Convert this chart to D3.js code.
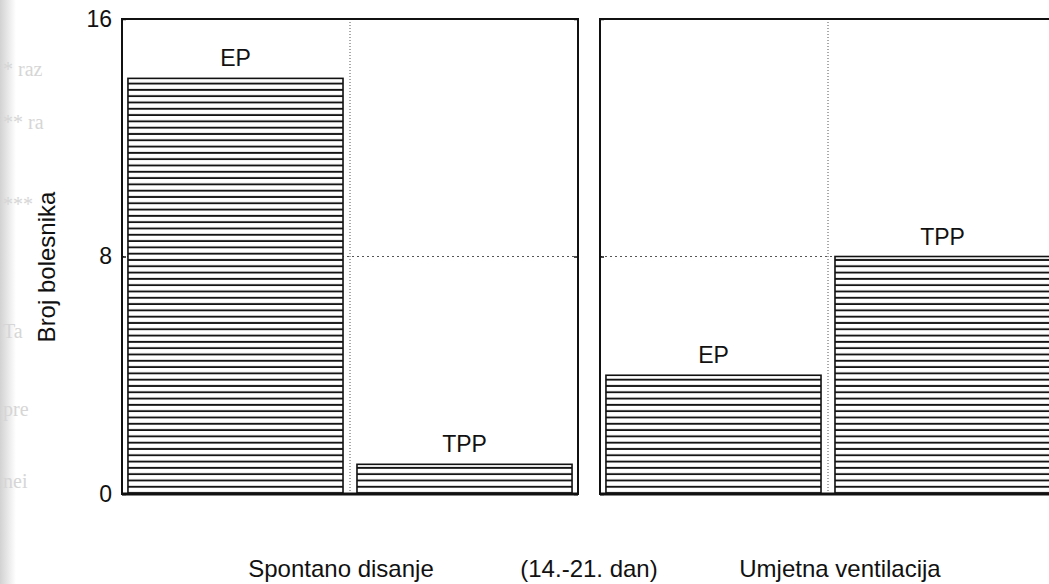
<!DOCTYPE html>
<html>
<head>
<meta charset="utf-8">
<script src="https://cdn.jsdelivr.net/npm/d3@7"></script>
<style>
  html, body { margin: 0; padding: 0; background: #fff; }
  svg { display: block; }
  text { font-family: "Liberation Sans", Arial, sans-serif; fill: #111; }
</style>
</head>
<body>
<svg id="chart" width="1049" height="584"></svg>
<script>
// ---- data ----
const panels = ["Spontano disanje", "Umjetna ventilacija"];
const categories = ["EP", "TPP"];
const spontanoValues = [14, 1];
const umjetnaValues = [4, 8];
const yTicks = [0, 8, 16];
const yTitle = "Broj bolesnika";
const middleLabel = "(14.-21. dan)";
const bleedText = ["* raz", "** ra", "***", "Ta", "pre", "nei"];

const seriesByPanel = [spontanoValues, umjetnaValues];

const svg = d3.select("#chart");
const W = 1049, H = 584;

// scanned-paper left edge shading
const defs = svg.append("defs");
const grad = defs.append("linearGradient").attr("id", "edge").attr("x1", 0).attr("x2", 1);
grad.append("stop").attr("offset", 0).attr("stop-color", "#d2d2d2");
grad.append("stop").attr("offset", 1).attr("stop-color", "#ffffff");
svg.append("rect").attr("x", 0).attr("y", 0).attr("width", 16).attr("height", H).attr("fill", "url(#edge)");

// faint bleed-through text from the scanned page
const bleedY = [76, 129, 211, 338, 416, 488];
svg.selectAll("text.bleed").data(bleedText).join("text")
  .attr("class", "bleed")
  .attr("x", 3).attr("y", (d, i) => bleedY[i])
  .style("font-family", "'Liberation Serif', serif")
  .style("font-size", "20px")
  .style("fill", "#d6d6d6")
  .text(d => d);

// hatch pattern for bars (horizontal lines)
const pitch = 6.3;
const pat = defs.append("pattern").attr("id", "hatch")
  .attr("patternUnits", "userSpaceOnUse")
  .attr("width", 10).attr("height", pitch)
  .attr("patternTransform", "translate(0,494)");
pat.append("rect").attr("width", 10).attr("height", pitch).attr("fill", "#fff");
pat.append("rect").attr("y", pitch - 1.9).attr("width", 10).attr("height", 1.9).attr("fill", "#151515");

// ---- scales ----
const y = d3.scaleLinear().domain([0, 16]).range([494, 19]);
const xPanel = d3.scaleBand().domain(panels).range([122, 1056]).paddingInner(22 / 478).paddingOuter(0);

panels.forEach((p, pi) => {
  const x0 = xPanel(p), x1 = x0 + xPanel.bandwidth();
  const g = svg.append("g");
  const xBar = d3.scaleBand().domain(categories).range([x0, x1])
    .paddingInner(0.061).paddingOuter(0.026);
  const mid = (x0 + x1) / 2;

  // dotted gridlines
  g.append("line").attr("x1", mid).attr("x2", mid).attr("y1", y(16)).attr("y2", y(0))
    .attr("stroke", "#555").attr("stroke-width", 1).attr("stroke-dasharray", "1,2");
  g.append("line").attr("x1", x0).attr("x2", x1).attr("y1", y(8)).attr("y2", y(8))
    .attr("stroke", "#555").attr("stroke-width", 1).attr("stroke-dasharray", "2,3");

  // bars
  const vals = seriesByPanel[pi];
  g.selectAll("rect.bar").data(categories).join("rect")
    .attr("class", "bar")
    .attr("x", d => xBar(d))
    .attr("width", xBar.bandwidth())
    .attr("y", (d, i) => y(vals[i]))
    .attr("height", (d, i) => y(0) - y(vals[i]))
    .attr("fill", "url(#hatch)")
    .attr("stroke", "#111").attr("stroke-width", 1.6);

  // bar labels
  g.selectAll("text.lab").data(categories).join("text")
    .attr("class", "lab")
    .attr("x", d => xBar(d) + xBar.bandwidth() / 2)
    .attr("y", (d, i) => y(vals[i]) - 12)
    .attr("text-anchor", "middle")
    .style("font-size", "23px")
    .text(d => d);

  // frame
  g.append("rect").attr("x", x0).attr("y", y(16)).attr("width", x1 - x0).attr("height", y(0) - y(16))
    .attr("fill", "none").attr("stroke", "#111").attr("stroke-width", 2);
  g.append("line").attr("x1", x0).attr("x2", x1).attr("y1", y(0)).attr("y2", y(0))
    .attr("stroke", "#111").attr("stroke-width", 3);

  // inward ticks on both sides
  const leftAxis = d3.axisRight(y).tickValues(yTicks).tickSize(4).tickFormat("");
  const rightAxis = d3.axisLeft(y).tickValues(yTicks).tickSize(4).tickFormat("");
  const la = g.append("g").attr("transform", `translate(${x0},0)`).call(leftAxis);
  const ra = g.append("g").attr("transform", `translate(${x1},0)`).call(rightAxis);
  [la, ra].forEach(a => {
    a.select(".domain").remove();
    a.selectAll("line").attr("stroke", "#111").attr("stroke-width", 1.5);
  });

  // panel label at bottom
  svg.append("text")
    .attr("x", mid + (pi === 0 ? -9 : 12))
    .attr("y", 577)
    .attr("text-anchor", "middle")
    .style("font-size", "24px")
    .text(p);
});

// y tick labels (left of first panel)
const yAxis = d3.axisLeft(y).tickValues(yTicks).tickSize(0).tickPadding(10).tickFormat(d3.format("d"));
const ya = svg.append("g").attr("transform", `translate(${xPanel(panels[0])},0)`).call(yAxis);
ya.select(".domain").remove();
ya.selectAll("text")
  .style("font-family", "'Liberation Sans', Arial, sans-serif")
  .style("font-size", "23px").attr("fill", "#111");

// middle label
svg.append("text")
  .attr("x", (xPanel(panels[0]) + xPanel(panels[1]) + xPanel.bandwidth()) / 2)
  .attr("y", 577)
  .attr("text-anchor", "middle")
  .style("font-size", "24px")
  .text(middleLabel);

// y title
svg.append("text")
  .attr("transform", "translate(55,267) rotate(-90)")
  .attr("text-anchor", "middle")
  .style("font-size", "24px")
  .text(yTitle);
</script>
</body>
</html>
